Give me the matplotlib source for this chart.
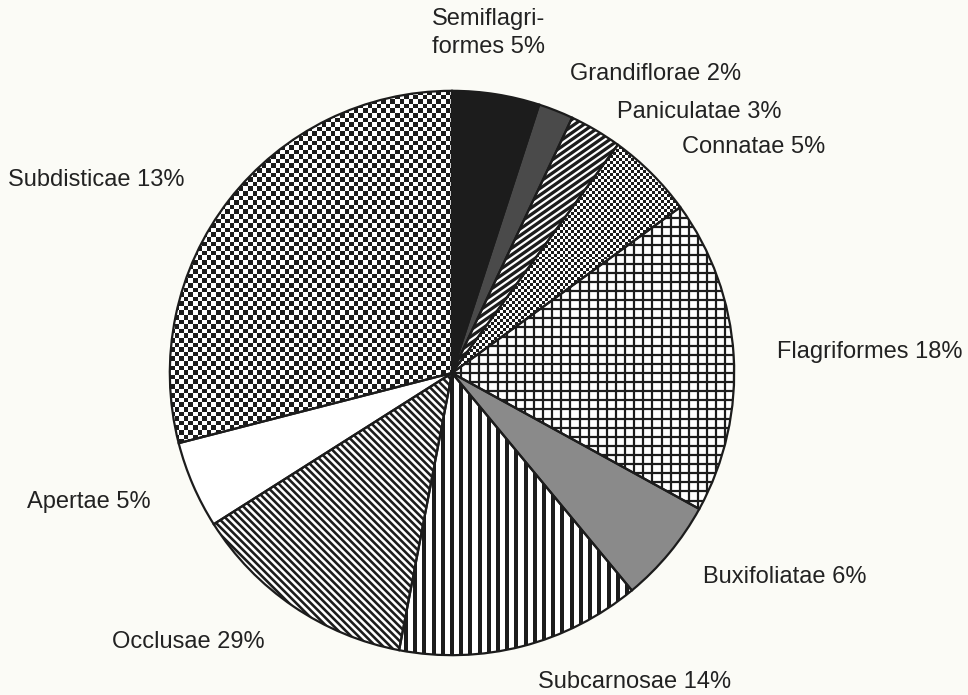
import matplotlib.pyplot as plt
import numpy as np
from matplotlib.collections import LineCollection

plt.rcParams['font.family'] = ['Liberation Sans', 'DejaVu Sans']

# slice shares as drawn (clockwise from 12 o'clock) and the printed labels
shares = [5, 2, 3, 5, 18, 6, 14, 13, 5, 29]
labels = ["Semiflagri-\nformes 5%", "Grandiflorae 2%", "Paniculatae 3%",
          "Connatae 5%", "Flagriformes 18%", "Buxifoliatae 6%",
          "Subcarnosae 14%", "Occlusae 29%", "Apertae 5%", "Subdisticae 13%"]
# label anchors in figure pixels (left x, centre y from top)
label_pos = [(432, 33), (570, 74), (617, 112), (682, 147), (777, 352),
             (703, 577), (538, 682), (112, 642), (27, 502), (8, 180)]

# fill per slice: facecolor, stripe sets (angle, period px, width px, colour), checker cell px
fills = [('#1c1c1c', [], None),
         ('#4a4a4a', [], None),
         ('#1c1c1c', [(35, 5.5, 2.2, 'white')], None),
         ('white', [], 3.0),
         ('white', [(0, 9.2, 2.2, '#1c1c1c'), (90, 9.2, 2.2, '#1c1c1c')], None),
         ('#8a8a8a', [], None),
         ('white', [(90, 9.3, 4.0, '#1c1c1c')], None),
         ('white', [(-45, 5.2, 2.6, '#1c1c1c')], None),
         ('white', [], None),
         ('white', [], 4.6)]

W, H = 968, 695
cx, cy, r = 452, 373, 285
bg = '#fbfbf6'

fig = plt.figure(figsize=(W / 100, H / 100), dpi=100, facecolor=bg)
ax = fig.add_axes([(cx - r) / W, (H - cy - r) / H, 2 * r / W, 2 * r / H])
ax.set_facecolor(bg)

wedges, _ = ax.pie(shares, startangle=90, counterclock=False, radius=1,
                   wedgeprops=dict(linewidth=0))


def stripes(wedge, angle, period, width, color):
    # parallel lines across the pie, clipped to one wedge
    a = np.deg2rad(angle)
    d = np.array([np.cos(a), np.sin(a)])
    nrm = np.array([-d[1], d[0]])
    step = period / r
    segs = [[tuple(k * step * nrm - 1.2 * d), tuple(k * step * nrm + 1.2 * d)]
            for k in range(-int(1.2 / step), int(1.2 / step) + 1)]
    lc = LineCollection(segs, colors=color, linewidths=width * 0.72, zorder=2)
    ax.add_collection(lc)
    lc.set_clip_path(wedge)


for w, (fc, sets, cell) in zip(wedges, fills):
    w.set_facecolor(fc)
    for s in sets:
        stripes(w, *s)
    if cell:
        n = int(2 * r / cell)
        board = np.indices((n, n)).sum(axis=0) % 2
        im = ax.imshow(board, cmap='gray', extent=(-1, 1, -1, 1),
                       interpolation='nearest', vmin=-0.12, vmax=1, zorder=2)
        im.set_clip_path(w)

# outlines on top
outline, _ = ax.pie(shares, startangle=90, counterclock=False, radius=1,
                    wedgeprops=dict(fill=False, edgecolor='#1c1c1c', linewidth=1.6))
for w in outline:
    w.set_zorder(3)

ax.set_xlim(-1.01, 1.01)
ax.set_ylim(-1.01, 1.01)
ax.set_aspect('equal')
ax.axis('off')

for text, (x, y) in zip(labels, label_pos):
    fig.text(x / W, 1 - y / H, text, ha='left', va='center', fontsize=17,
             color='#222222', linespacing=1.4)

fig.savefig('out.png', dpi=100, facecolor=bg)
